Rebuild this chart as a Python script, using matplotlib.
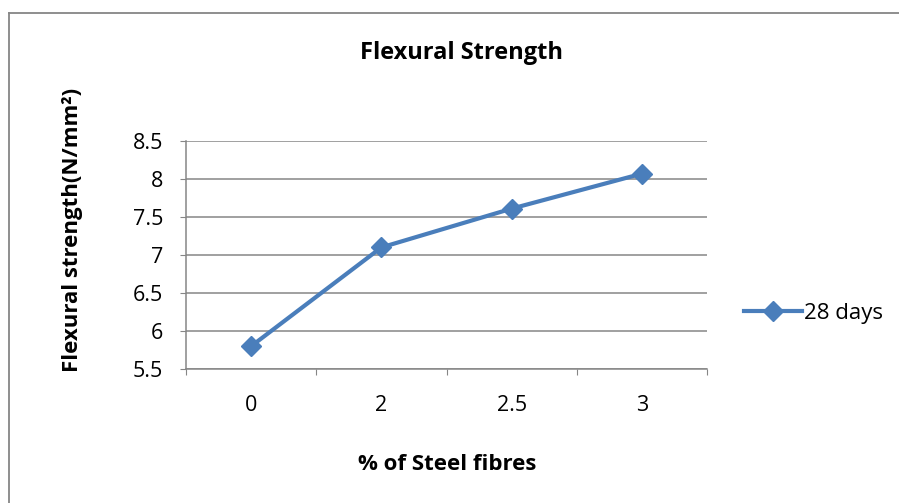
import matplotlib.pyplot as plt
from matplotlib.lines import Line2D

plt.rcParams['font.family'] = ['Open Sans', 'DejaVu Sans']

# % of steel fibres (categories) and 28-day flexural strength
fibres = ['0', '2', '2.5', '3']
strength_28 = [5.80, 7.10, 7.61, 8.07]
y_ticks = [5.5, 6, 6.5, 7, 7.5, 8, 8.5]

W, H = 899, 503
fig = plt.figure(figsize=(W / 100, H / 100), dpi=100)
ax = fig.add_axes([186 / W, 1 - 369 / H, (707 - 186) / W, (369 - 141) / H])

grey = '#868686'
blue = '#4A7EBB'

x = list(range(len(fibres)))
ax.plot(x, strength_28, color=blue, lw=3.0, marker='D', markersize=10,
        markerfacecolor=blue, markeredgecolor=blue, label='28 days', zorder=3)

ax.set_xlim(-0.5, len(fibres) - 0.5)
ax.set_ylim(5.5, 8.5)
ax.set_yticks(y_ticks)
ax.set_yticklabels([f'{v:g}' for v in y_ticks], fontsize=15.5)
ax.yaxis.grid(True, color=grey, lw=1.1)
ax.set_axisbelow(True)

# category labels in the middle, tick marks on the boundaries
ax.set_xticks([i - 0.5 for i in range(len(fibres) + 1)])
ax.set_xticklabels([])
ax.set_xticks(x, minor=True)
ax.set_xticklabels(fibres, minor=True, fontsize=15.5)
ax.tick_params(axis='x', which='minor', length=0, pad=19)
ax.tick_params(axis='x', which='major', length=4.5, color=grey, direction='out')
ax.tick_params(axis='y', length=4.5, color=grey, direction='out', pad=12)

for side in ['top', 'right']:
    ax.spines[side].set_visible(False)
for side in ['left', 'bottom']:
    ax.spines[side].set_color(grey)
    ax.spines[side].set_linewidth(1.1)

fig.text(462 / W, 1 - 53 / H, 'Flexural Strength', ha='center', va='center',
         fontsize=17, fontweight='bold')
fig.text(447 / W, 1 - 464 / H, '% of Steel fibres', ha='center', va='center',
         fontsize=16, fontweight='bold')
fig.text(73 / W, 1 - 230 / H, 'Flexural strength(N/mm²)', ha='center',
         va='center', rotation=90, fontsize=16, fontweight='bold')

ax.legend(loc='center left', bbox_to_anchor=(735 / W, 1 - 313 / H),
          bbox_transform=fig.transFigure, frameon=False, fontsize=16,
          handlelength=2.6, handletextpad=0.1, borderaxespad=0)

# outer chart frame
fig.add_artist(Line2D([9 / W, 1], [1 - 13 / H, 1 - 13 / H],
                      transform=fig.transFigure, color=grey, lw=1.3))
fig.add_artist(Line2D([9 / W, 9 / W], [0, 1 - 13 / H],
                      transform=fig.transFigure, color=grey, lw=1.3))

fig.savefig('out.png', dpi=100)
